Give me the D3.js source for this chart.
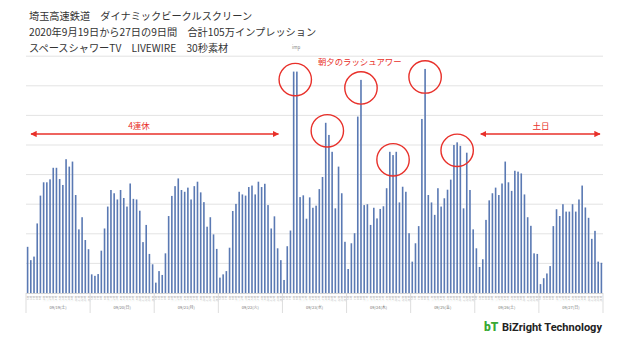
<!DOCTYPE html>
<html><head><meta charset="utf-8">
<script src="https://cdn.jsdelivr.net/npm/d3@7"></script>
<style>
html,body{margin:0;padding:0;background:#fff;}
svg{display:block;}
</style></head>
<body>
<svg id="c" width="625" height="344"></svg>
<script>
// ---- DATA ----
const titleLines = [
  "埼玉高速鉄道　ダイナミックビークルスクリーン",
  "2020年9月19日から27日の9日間　合計105万インプレッション",
  "スペースシャワーTV　LIVEWIRE　30秒素材"
];
const days = ["09/19(土)","09/20(日)","09/21(月)","09/22(火)","09/23(水)","09/24(木)","09/25(金)","09/26(土)","09/27(日)"];
const hours = ["5時","6時","7時","8時","9時","10時","11時","12時","13時","14時","15時","16時","17時","18時","19時","20時","21時","22時","23時","24時"];
const d0919 = [3120,2220,2460,4700,6580,7480,7480,7680,8460,8460,7700,7300,9040,8540,8880,6620,4300,5120,3580,2960];
const d0920 = [1260,1160,1280,2860,4360,5840,6960,6740,6320,6960,6420,5840,7400,6360,6320,5560,3440,4600,2640,1940];
const d0921 = [700,1480,1220,2680,5200,6560,7220,7740,6960,6840,7120,6320,7220,7520,6800,6140,4480,5120,3960,2980];
const d0922 = [1040,1260,1480,3060,5540,6020,6840,6660,6580,7160,7260,6660,7520,7160,7380,5940,4360,5180,3020,2220];
const d0923 = [880,3160,4220,14960,14960,6480,6600,5020,6460,5760,5900,7020,7840,11500,10680,9540,5720,8540,6740,3460];
const d0924 = [1620,3360,4040,11920,14400,5940,6000,4600,5760,5040,5680,5860,7080,9540,9320,9540,6120,7180,6840,4040];
const d0925 = [2120,3360,4520,11760,15140,6620,6120,5280,7080,5840,6400,6980,7660,10000,10180,9940,5720,9480,6960,4300];
const d0926 = [3020,1760,2280,4940,6260,6740,7120,6620,7400,8880,7480,6900,8260,8200,8080,6660,5120,4540,2680,2640];
const d0927 = [600,1000,1320,1820,4520,5660,5200,6000,5500,5500,6000,5500,6320,7260,5780,5080,3660,4200,2120,2040];
const dayValues = [d0919,d0920,d0921,d0922,d0923,d0924,d0925,d0926,d0927];
const yTicks = [0,2000,4000,6000,8000,10000,12000,14000,16000];
const annRush = "朝夕のラッシュアワー";
const annHoliday = "4連休";
const annWeekend = "土日";

// ---- BUILD ----
const rows = [];
dayValues.forEach((arr, di) => arr.forEach((v, hi) => rows.push({key: di + "_" + hi, day: days[di], hour: hours[hi], di, hi, v})));

const svg = d3.select("#c");
const X0 = 26, X1 = 603, Y0 = 293, YT = 56.2;
const x = d3.scaleBand().domain(rows.map(d => d.key)).range([X0, X1]).paddingInner(0.5).paddingOuter(0.25);
const y = d3.scaleLinear().domain([0, 16000]).range([Y0, YT]);
const xDay = d3.scaleBand().domain(days).range([X0, X1]);

// gridlines
svg.append("g").selectAll("line").data(yTicks.slice(1)).join("line")
  .attr("x1", X0).attr("x2", X1).attr("y1", d => y(d)).attr("y2", d => y(d))
  .attr("stroke", "#e3e3e3").attr("stroke-width", 1);

// bars
svg.append("g").selectAll("rect").data(rows).join("rect")
  .attr("x", d => x(d.key)).attr("width", x.bandwidth())
  .attr("y", d => y(d.v)).attr("height", d => Y0 - y(d.v))
  .attr("fill", "#5a79b3");

// baseline
svg.append("line").attr("x1", X0).attr("x2", X1).attr("y1", Y0 + 0.5).attr("y2", Y0 + 0.5)
  .attr("stroke", "#d4d4d4").attr("stroke-width", 1);

// hour labels (tiny rotated)
svg.append("g").selectAll("text").data(rows).join("text")
  .attr("transform", d => `translate(${x(d.key) + x.bandwidth() / 2 + 1},296) rotate(-90)`)
  .attr("text-anchor", "end")
  .attr("font-family", "Noto Sans CJK JP")
  .attr("font-size", 2.6)
  .attr("fill", "#aaa")
  .text(d => d.hour);

// day separators
const seps = days.map(d => xDay(d)).concat([X1]);
svg.append("g").selectAll("line").data(seps).join("line")
  .attr("x1", d => d).attr("x2", d => d).attr("y1", Y0).attr("y2", 313)
  .attr("stroke", "#d4d4d4").attr("stroke-width", 0.8);

// day labels
svg.append("g").selectAll("text").data(days).join("text")
  .attr("x", d => xDay(d) + xDay.bandwidth() / 2).attr("y", 308.5)
  .attr("text-anchor", "middle")
  .attr("font-family", "Noto Sans CJK JP")
  .attr("font-size", 4)
  .attr("fill", "#777")
  .text(d => d);

// title
svg.append("g").selectAll("text").data(titleLines).join("text")
  .attr("x", 29).attr("y", (d, i) => 19.5 + i * 16)
  .attr("font-family", "Noto Sans CJK JP")
  .attr("font-size", 10.2)
  .attr("fill", "#333")
  .text(d => d);

// imp unit
svg.append("text").attr("x", 292).attr("y", 48.5).attr("font-family", "Noto Sans CJK JP")
  .attr("font-size", 4.5).attr("fill", "#888").text("imp");

// annotations
const red = "#e8302a";
const defs = svg.append("defs");
defs.append("marker").attr("id", "ah").attr("viewBox", "0 0 10 10").attr("refX", 9).attr("refY", 5)
  .attr("markerWidth", 4.5).attr("markerHeight", 4.5).attr("orient", "auto-start-reverse")
  .attr("markerUnits", "strokeWidth")
  .append("path").attr("d", "M0,0 L10,5 L0,10 z").attr("fill", red);

function arrow(xa, xb, yy) {
  svg.append("line").attr("x1", xa).attr("x2", xb).attr("y1", yy).attr("y2", yy)
    .attr("stroke", red).attr("stroke-width", 1.4)
    .attr("marker-start", "url(#ah)").attr("marker-end", "url(#ah)");
}
arrow(xDay(days[0]) + 5, xDay(days[4]) - 4, 134);
arrow(xDay(days[7]) + 6, X1 - 3, 134);

svg.append("text").attr("x", 139).attr("y", 129).attr("text-anchor", "middle")
  .attr("font-family", "Noto Sans CJK JP").attr("font-size", 8.5).attr("fill", red).text(annHoliday);
svg.append("text").attr("x", xDay(days[7]) + 2 + (X1 - xDay(days[7])) / 2).attr("y", 129).attr("text-anchor", "middle")
  .attr("font-family", "Noto Sans CJK JP").attr("font-size", 8.5).attr("fill", red).text(annWeekend);
svg.append("text").attr("x", 318).attr("y", 65)
  .attr("font-family", "Noto Sans CJK JP").attr("font-size", 8.4).attr("fill", red).text(annRush);

// circles around rush-hour peaks (centered on data)
const circ = [
  {di: 4, hs: [3, 4]}, {di: 4, hs: [13, 14]},
  {di: 5, hs: [4]}, {di: 5, hs: [13, 14, 15]},
  {di: 6, hs: [4]}, {di: 6, hs: [13, 14, 15]}
];
svg.append("g").selectAll("circle").data(circ).join("circle")
  .attr("cx", c => d3.mean(c.hs, h => x(c.di + "_" + h) + x.bandwidth() / 2))
  .attr("cy", c => y(d3.max(c.hs, h => dayValues[c.di][h])) + 8)
  .attr("r", 16.2)
  .attr("fill", "none").attr("stroke", red).attr("stroke-width", 1.4);

// logo
svg.append("text").attr("x", 484).attr("y", 331).attr("font-family", "Roboto, Lato, sans-serif")
  .attr("font-weight", 900).attr("font-size", 12).attr("fill", "#3aa935").text("bT");
svg.append("text").attr("x", 502).attr("y", 330.5).attr("font-family", "Roboto, Lato, sans-serif")
  .attr("font-weight", 700).attr("font-size", 10.2).attr("fill", "#222")
  .attr("textLength", 100).attr("lengthAdjust", "spacingAndGlyphs").text("BiZright Technology");
</script>
</body></html>
